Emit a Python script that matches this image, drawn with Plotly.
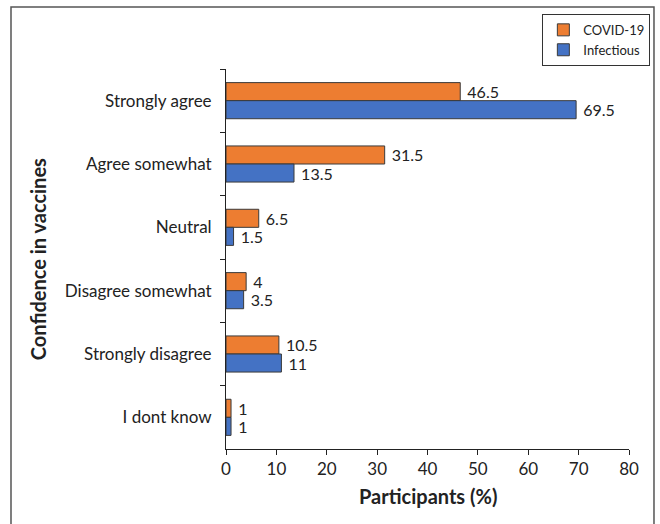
import plotly.graph_objects as go

categories = ["Strongly agree", "Agree somewhat", "Neutral",
              "Disagree somewhat", "Strongly disagree", "I dont know"]
covid_values = [46.5, 31.5, 6.5, 4, 10.5, 1]
infectious_values = [69.5, 13.5, 1.5, 3.5, 11, 1]
x_ticks = [0, 10, 20, 30, 40, 50, 60, 70, 80]

FONT = "Lato"
TEXT = "#222222"
TICK_SIZE = 17
VALUE_SIZE = 16


def value_labels(values):
    # a non-breaking space pushes each label a little away from its bar end
    return ["\u00a0" + f"{v:g}" for v in values]


fig = go.Figure()
fig.add_trace(go.Bar(
    y=categories, x=covid_values, orientation="h", name="COVID-19",
    marker=dict(color="#ED7D31", line=dict(color="#3a3a3a", width=1)),
    text=value_labels(covid_values), textposition="outside",
    textfont=dict(family=FONT, size=VALUE_SIZE, color=TEXT), cliponaxis=False,
))
fig.add_trace(go.Bar(
    y=categories, x=infectious_values, orientation="h", name="Infectious",
    marker=dict(color="#4472C4", line=dict(color="#3a3a3a", width=1)),
    text=value_labels(infectious_values), textposition="outside",
    textfont=dict(family=FONT, size=VALUE_SIZE, color=TEXT), cliponaxis=False,
))

fig.update_layout(
    width=660, height=524,
    margin=dict(l=226, r=31, t=69, b=75, autoexpand=False),
    paper_bgcolor="white", plot_bgcolor="white",
    barmode="group", bargap=0.43, bargroupgap=0,
    font=dict(family=FONT, size=TICK_SIZE, color=TEXT),
    uniformtext=dict(minsize=VALUE_SIZE, mode="show"),
    showlegend=True,
    legend=dict(
        x=0.785, y=1.145, xanchor="left", yanchor="top",
        bordercolor="#333333", borderwidth=1,
        font=dict(family=FONT, size=13, color=TEXT),
        tracegroupgap=0, itemwidth=30,
    ),
    xaxis=dict(
        range=[0, 80], tickvals=x_ticks, showgrid=False, zeroline=False,
        showline=True, linecolor="#222", linewidth=1,
        ticks="outside", ticklen=5, tickcolor="#222",
        tickfont=dict(family=FONT, size=TICK_SIZE, color=TEXT),
    ),
    yaxis=dict(
        autorange="reversed", showgrid=False, zeroline=False,
        showline=True, linecolor="#222", linewidth=1,
        ticks="outside", ticklen=5, tickcolor="#222", tickson="boundaries",
        tickfont=dict(family=FONT, size=TICK_SIZE, color=TEXT),
        ticklabelstandoff=10,
    ),
    annotations=[
        dict(text="<b>Participants (%)</b>", xref="paper", yref="paper",
             x=0.5, y=-0.124, xanchor="center", yanchor="middle", showarrow=False,
             font=dict(family=FONT, size=20, color=TEXT)),
        dict(text="<b>Confidence in vaccines</b>", xref="paper", yref="paper",
             x=-0.466, y=0.5, xanchor="center", yanchor="middle", textangle=-90,
             showarrow=False, font=dict(family=FONT, size=20, color=TEXT)),
    ],
    shapes=[
        dict(type="rect", xref="paper", yref="paper",
             x0=-0.5335, x1=1.062, y0=-0.4, y1=1.163,
             line=dict(color="#555555", width=1.5), layer="below"),
    ],
)

fig.write_html("out.html")
